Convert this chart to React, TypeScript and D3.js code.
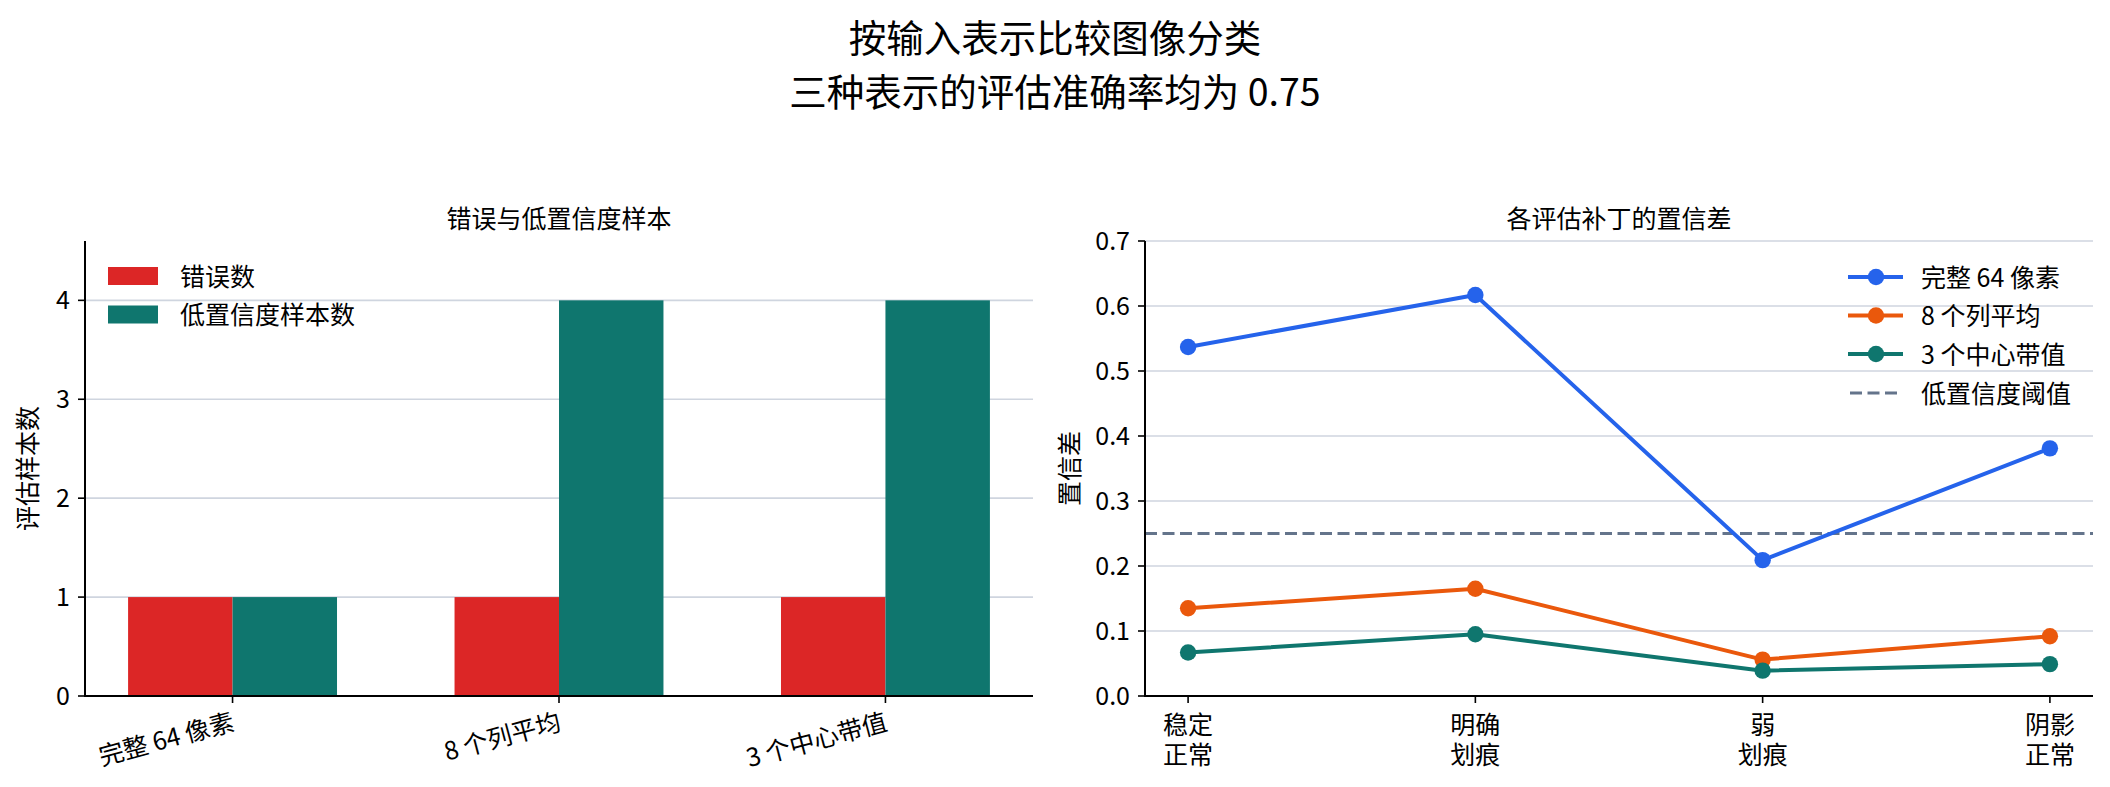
import React from "react";
import * as d3 from "d3";

const suptitleLines = ["按输入表示比较图像分类", "三种表示的评估准确率均为 0.75"];

// Left panel
const leftTitle = "错误与低置信度样本";
const leftYLabel = "评估样本数";
const representations = ["完整 64 像素", "8 个列平均", "3 个中心带值"];
const errorCounts = [1, 1, 1];
const lowConfCounts = [1, 4, 4];
const leftYTicks = [0, 1, 2, 3, 4];
const barSeriesNames = ["错误数", "低置信度样本数"];

// Right panel
const rightTitle = "各评估补丁的置信差";
const rightYLabel = "置信差";
const patchLabels = [["稳定", "正常"], ["明确", "划痕"], ["弱", "划痕"], ["阴影", "正常"]];
const fullPixels = [0.537, 0.617, 0.209, 0.381];
const colAverages = [0.135, 0.165, 0.056, 0.092];
const centerBands = [0.067, 0.095, 0.039, 0.049];
const threshold = 0.25;
const rightYTicks = [0.0, 0.1, 0.2, 0.3, 0.4, 0.5, 0.6, 0.7];
const lineSeriesNames = ["完整 64 像素", "8 个列平均", "3 个中心带值"];
const thresholdName = "低置信度阈值";

const RED = "#dc2626";
const TEAL = "#0f766e";
const BLUE = "#2563eb";
const ORANGE = "#ea580c";
const SLATE = "#64748b";
const GRID = "#cfd5df";
const FONT = "'Noto Sans CJK SC', 'Noto Sans', sans-serif";
const FS = 25;

export default function App() {
  const L = { x0: 85, x1: 1033, y0: 241, y1: 696 };
  const R = { x0: 1145, x1: 2093, y0: 241, y1: 696 };
  const barW = 0.32;

  const xL = d3.scaleLinear().domain([-0.452, 2.452]).range([L.x0, L.x1]);
  const yL = d3.scaleLinear().domain([0, 4.6]).range([L.y1, L.y0]);

  const xR = d3.scaleLinear().domain([-0.15, 3.15]).range([R.x0, R.x1]);
  const yR = d3.scaleLinear().domain([0, 0.7]).range([R.y1, R.y0]);

  const lineGen = d3
    .line<number>()
    .x((_, i) => xR(i))
    .y((d) => yR(d));

  const series = [
    { name: lineSeriesNames[0], values: fullPixels, color: BLUE },
    { name: lineSeriesNames[1], values: colAverages, color: ORANGE },
    { name: lineSeriesNames[2], values: centerBands, color: TEAL },
  ];

  return (
    <svg
      width={2110}
      height={787}
      style={{ position: "absolute", left: 0, top: 0, background: "#fff" }}
      fontFamily={FONT}
    >
      <rect x={0} y={0} width={2110} height={787} fill="#fff" />
      {suptitleLines.map((t, i) => (
        <text key={i} x={1055} y={52 + i * 54} fontSize={37.5} textAnchor="middle" fill="#000">
          {t}
        </text>
      ))}

      {/* ===== Left panel ===== */}
      <text x={(L.x0 + L.x1) / 2} y={227.5} fontSize={FS} textAnchor="middle">
        {leftTitle}
      </text>
      {leftYTicks.slice(1).map((t) => (
        <line key={t} x1={L.x0} x2={L.x1} y1={yL(t)} y2={yL(t)} stroke={GRID} strokeWidth={1.6} />
      ))}
      {representations.map((r, i) => (
        <g key={r}>
          <rect
            x={xL(i - barW)}
            y={yL(errorCounts[i])}
            width={xL(i) - xL(i - barW)}
            height={yL(0) - yL(errorCounts[i])}
            fill={RED}
          />
          <rect
            x={xL(i)}
            y={yL(lowConfCounts[i])}
            width={xL(i + barW) - xL(i)}
            height={yL(0) - yL(lowConfCounts[i])}
            fill={TEAL}
          />
        </g>
      ))}
      <line x1={L.x0} x2={L.x0} y1={L.y0} y2={L.y1 + 1} stroke="#000" strokeWidth={2} />
      <line x1={L.x0 - 1} x2={L.x1} y1={L.y1} y2={L.y1} stroke="#000" strokeWidth={2} />
      {leftYTicks.map((t) => (
        <g key={t}>
          <line x1={L.x0 - 7} x2={L.x0} y1={yL(t)} y2={yL(t)} stroke="#000" strokeWidth={1.6} />
          <text x={L.x0 - 15} y={yL(t) + 9} fontSize={FS} textAnchor="end">
            {t}
          </text>
        </g>
      ))}
      {representations.map((r, i) => (
        <g key={r}>
          <line x1={xL(i)} x2={xL(i)} y1={L.y1} y2={L.y1 + 7} stroke="#000" strokeWidth={1.6} />
          <g transform={`translate(${xL(i) - 2},${L.y1 + 14}) rotate(-15)`}>
            <text fontSize={FS} textAnchor="end" dy="0.82em">
              {r}
            </text>
          </g>
        </g>
      ))}
      <text
        transform={`translate(28,${(L.y0 + L.y1) / 2}) rotate(-90)`}
        fontSize={FS}
        textAnchor="middle"
        dy="0.35em"
      >
        {leftYLabel}
      </text>
      {barSeriesNames.map((n, i) => (
        <g key={n}>
          <rect x={108} y={267 + i * 38.5} width={50} height={18} fill={i === 0 ? RED : TEAL} />
          <text x={180} y={285.5 + i * 38.5} fontSize={FS}>
            {n}
          </text>
        </g>
      ))}

      {/* ===== Right panel ===== */}
      <text x={(R.x0 + R.x1) / 2} y={227.5} fontSize={FS} textAnchor="middle">
        {rightTitle}
      </text>
      {rightYTicks.slice(1).map((t) => (
        <line key={t} x1={R.x0} x2={R.x1} y1={yR(t)} y2={yR(t)} stroke={GRID} strokeWidth={1.6} />
      ))}
      <line
        x1={R.x0}
        x2={R.x1}
        y1={yR(threshold)}
        y2={yR(threshold)}
        stroke={SLATE}
        strokeWidth={3.2}
        strokeDasharray="12 5.5"
      />
      {series.map((s) => (
        <g key={s.name}>
          <path d={lineGen(s.values) || ""} fill="none" stroke={s.color} strokeWidth={4} strokeLinejoin="round" />
          {s.values.map((v, i) => (
            <circle key={i} cx={xR(i)} cy={yR(v)} r={8.2} fill={s.color} />
          ))}
        </g>
      ))}
      <line x1={R.x0} x2={R.x0} y1={R.y0} y2={R.y1 + 1} stroke="#000" strokeWidth={2} />
      <line x1={R.x0 - 1} x2={R.x1} y1={R.y1} y2={R.y1} stroke="#000" strokeWidth={2} />
      {rightYTicks.map((t) => (
        <g key={t}>
          <line x1={R.x0 - 7} x2={R.x0} y1={yR(t)} y2={yR(t)} stroke="#000" strokeWidth={1.6} />
          <text x={R.x0 - 15} y={yR(t) + 9} fontSize={FS} textAnchor="end">
            {t.toFixed(1)}
          </text>
        </g>
      ))}
      {patchLabels.map((lab, i) => (
        <g key={i}>
          <line x1={xR(i)} x2={xR(i)} y1={R.y1} y2={R.y1 + 7} stroke="#000" strokeWidth={1.6} />
          {lab.map((ln, j) => (
            <text key={j} x={xR(i)} y={734 + j * 30} fontSize={FS} textAnchor="middle">
              {ln}
            </text>
          ))}
        </g>
      ))}
      <text
        transform={`translate(1070,${(R.y0 + R.y1) / 2}) rotate(-90)`}
        fontSize={FS}
        textAnchor="middle"
        dy="0.35em"
      >
        {rightYLabel}
      </text>
      {series.map((s, i) => (
        <g key={s.name}>
          <line x1={1848} x2={1903} y1={277 + i * 38.5} y2={277 + i * 38.5} stroke={s.color} strokeWidth={4} />
          <circle cx={1876} cy={277 + i * 38.5} r={8.2} fill={s.color} />
          <text x={1921} y={286.5 + i * 38.5} fontSize={FS}>
            {s.name}
          </text>
        </g>
      ))}
      <line
        x1={1850}
        x2={1900}
        y1={393}
        y2={393}
        stroke={SLATE}
        strokeWidth={3.2}
        strokeDasharray="12 5.5"
      />
      <text x={1921} y={402.5} fontSize={FS}>
        {thresholdName}
      </text>
    </svg>
  );
}
